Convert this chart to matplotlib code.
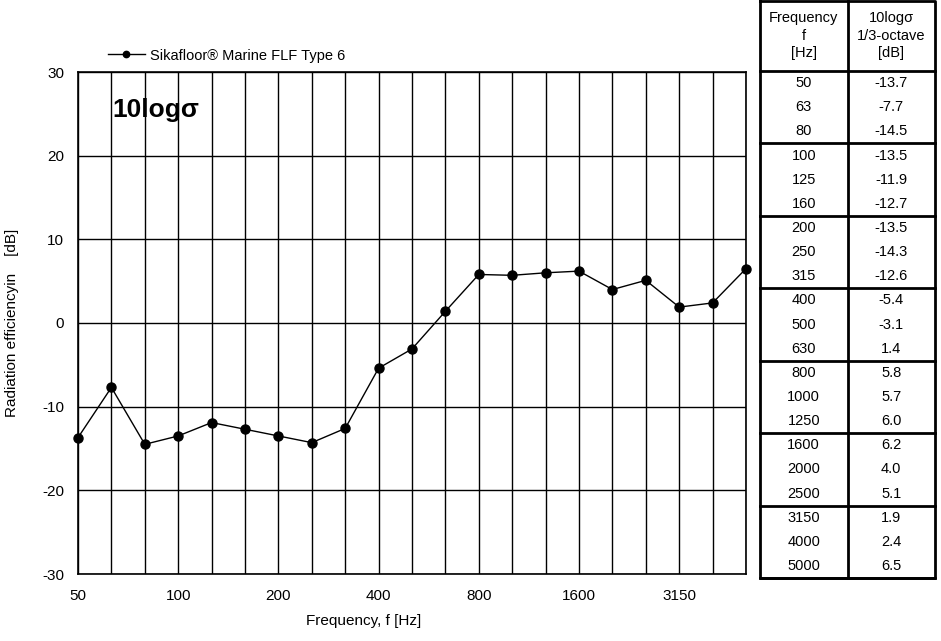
import matplotlib
matplotlib.use('Agg')
from matplotlib import pyplot as plt

plt.rcParams['font.family'] = ['Liberation Sans', 'DejaVu Sans']

# third-octave bands and radiation efficiency
freqs = [50, 63, 80, 100, 125, 160, 200, 250, 315, 400, 500, 630,
         800, 1000, 1250, 1600, 2000, 2500, 3150, 4000, 5000]
sigma_db = [-13.7, -7.7, -14.5, -13.5, -11.9, -12.7, -13.5, -14.3, -12.6, -5.4, -3.1, 1.4,
            5.8, 5.7, 6.0, 6.2, 4.0, 5.1, 1.9, 2.4, 6.5]
labelled = [50, 100, 200, 400, 800, 1600, 3150]
yticks = [-30, -20, -10, 0, 10, 20, 30]
series_name = 'Sikafloor® Marine FLF Type 6'

fig = plt.figure(figsize=(9.41, 6.41), dpi=100)
ax = fig.add_axes([78/941, 67/641, 668/941, 502/641])

idx = list(range(len(freqs)))
ax.plot(idx, sigma_db, '-o', color='black', lw=1, ms=6.5, label=series_name, clip_on=False, zorder=5)

ax.set_xlim(0, len(freqs) - 1)
ax.set_ylim(-30, 30)
ax.set_xticks(idx)
ax.set_xticklabels([str(f) if f in labelled else '' for f in freqs], fontsize=11)
ax.set_yticks(yticks)
ax.set_yticklabels([str(v) for v in yticks], fontsize=11)
ax.tick_params(axis='y', length=0, pad=10)
ax.tick_params(axis='x', length=0, pad=11)
ax.grid(True, color='black', lw=1)
for s in ax.spines.values():
    s.set_linewidth(1.2)

ax.set_ylabel('Radiation efficiencyin    [dB]', fontsize=11)
ax.yaxis.set_label_coords(-0.088, 0.5)
ax.set_xlabel('Frequency, f [Hz]', fontsize=11)
ax.xaxis.set_label_coords(0.428, -0.08)

ax.text(0.052, 0.91, '10log\u03c3', transform=ax.transAxes, fontsize=19,
        fontweight='bold', va='baseline', ha='left')

ax.legend(loc='lower left', bbox_to_anchor=(0.03, 1.0), frameon=False, fontsize=10.5,
          handlelength=2.6, handletextpad=0.3, borderaxespad=0.25, markerscale=0.7)

# table on the right
tab = fig.add_axes([760/941, 63/641, 175/941, 577/641])
tab.set_xlim(0, 2)
hdr = 2.9
nrow = len(freqs)
tab.set_ylim(nrow + hdr, 0)
tab.axis('off')

lw_thick = 2
tab.plot([0, 2, 2, 0, 0], [0, 0, nrow + hdr, nrow + hdr, 0], color='black', lw=lw_thick, clip_on=False)
tab.plot([1, 1], [0, nrow + hdr], color='black', lw=lw_thick, clip_on=False)
for g in range(0, nrow + 1, 3):
    tab.plot([0, 2], [hdr + g, hdr + g], color='black', lw=lw_thick, clip_on=False)

head_left = ['Frequency', 'f', '[Hz]']
head_right = ['10log\u03c3', '1/3-octave', '[dB]']
head_y = [0.7, 1.44, 2.16]
for i in range(3):
    tab.text(0.5, head_y[i], head_left[i], ha='center', va='center', fontsize=10.5)
    tab.text(1.5, head_y[i], head_right[i], ha='center', va='center', fontsize=10.5)

for i, (f, v) in enumerate(zip(freqs, sigma_db)):
    y = hdr + i + 0.5
    tab.text(0.5, y, str(f), ha='center', va='center', fontsize=10.5)
    tab.text(1.5, y, f'{v:.1f}', ha='center', va='center', fontsize=10.5)

fig.savefig('out.png', dpi=100)
